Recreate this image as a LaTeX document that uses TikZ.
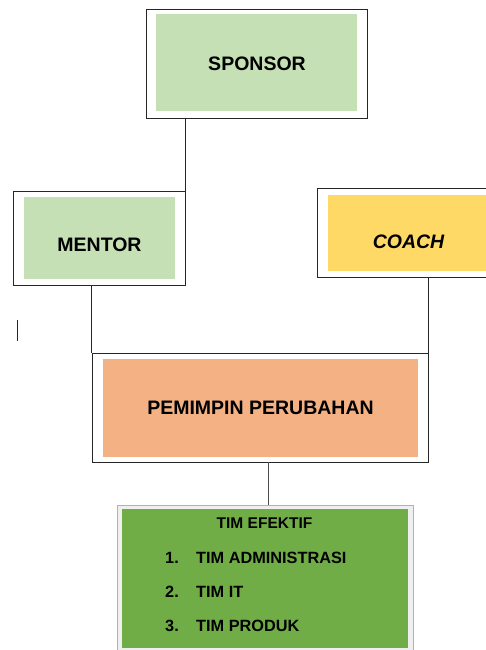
\documentclass[tikz,border=0pt]{standalone}
\usepackage{fontspec}
\setmainfont{Liberation Sans}
\definecolor{lgreen}{HTML}{C5E0B4}
\definecolor{lyellow}{HTML}{FFD966}
\definecolor{salmon}{HTML}{F4B183}
\definecolor{dgreen}{HTML}{70AD47}
\definecolor{frame}{HTML}{EFEFEF}
\begin{document}
\begin{tikzpicture}[x=1pt,y=-1pt,
  outbox/.style={draw=black!85,line width=0.9pt,fill=white,inner sep=0pt},
  inbox/.style={inner sep=0pt},
  label/.style={inner sep=0pt,font=\bfseries\fontsize{19.5}{22}\selectfont},
  conn/.style={draw=black!85,line width=0.9pt},
  item/.style={anchor=west,inner sep=0pt,font=\bfseries\fontsize{16.3}{18}\selectfont}]
\useasboundingbox (0,0) rectangle (486,650);
\clip (0,0) rectangle (486,650);
% SPONSOR
\node[outbox,minimum width=221pt,minimum height=109pt] (sponsorout) at (256.5,63.5) {};
\node[inbox,fill=lgreen,minimum width=201pt,minimum height=97pt] (sponsor) at (256.5,62.5) {};
\node[label] (sponsortxt) at (257,63.5) {SPONSOR};
% MENTOR
\node[outbox,minimum width=172pt,minimum height=94pt] (mentorout) at (99,238) {};
\node[inbox,fill=lgreen,minimum width=151pt,minimum height=82pt] (mentor) at (99.5,238) {};
\node[label] (mentortxt) at (99.5,244.5) {MENTOR};
% COACH
\node[outbox,minimum width=183pt,minimum height=89pt] (coachout) at (408.5,232.5) {};
\node[inbox,fill=lyellow,minimum width=161pt,minimum height=76pt] (coach) at (408.5,233) {};
\node[label] (coachtxt) at (408.5,242) {\itshape COACH};
% PEMIMPIN PERUBAHAN
\node[outbox,minimum width=336pt,minimum height=109pt] (pemout) at (260,407.5) {};
\node[inbox,fill=salmon,minimum width=315pt,minimum height=98pt] (pem) at (260.5,408) {};
\node[label] (pemtxt) at (260.5,408) {PEMIMPIN PERUBAHAN};
% TIM EFEKTIF
\node[draw=black!30,fill=frame,line width=0.6pt,inner sep=0pt,minimum width=296pt,minimum height=152pt] (timout) at (265,581) {};
\node[fill=dgreen,inner sep=0pt,minimum width=286pt,minimum height=139pt] (tim) at (265,578.5) {};
\node[inner sep=0pt,font=\bfseries\fontsize{15.5}{18}\selectfont] (timtitle) at (264.5,523) {TIM EFEKTIF};
\node[item] (n1) at (165,558) {1.};
\node[item] (t1) at (196,558) {TIM ADMINISTRASI};
\node[item] (n2) at (165,592) {2.};
\node[item] (t2) at (196,592) {TIM IT};
\node[item] (n3) at (165,626) {3.};
\node[item] (t3) at (196,626) {TIM PRODUK};
% connectors
\draw[conn] (mentorout.north east) -- (mentorout.north east |- sponsorout.south);
\draw[conn] (pemout.north west) -- (pemout.north west |- mentorout.south);
\draw[conn] (pemout.north east) -- (pemout.north east |- coachout.south);
\coordinate (pembot) at (268,462);
\draw[conn,draw=black!70] (pembot) -- (pembot |- timout.north);
% stray mark
\coordinate (m1) at (17,320);
\coordinate (m2) at (17,341);
\draw[conn] (m1) -- (m2);
\end{tikzpicture}
\end{document}
